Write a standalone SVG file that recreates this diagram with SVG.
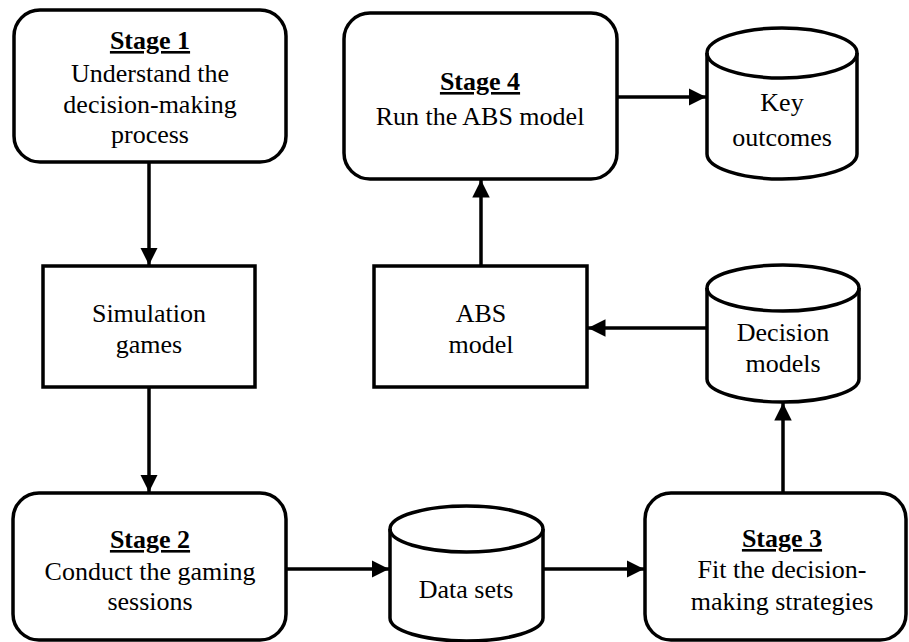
<svg xmlns="http://www.w3.org/2000/svg" width="909" height="642" viewBox="0 0 909 642">
<style>
.box{fill:#fff;stroke:#000;stroke-width:3.5}
.c{fill:none;stroke:#000;stroke-width:3.5}
</style>
<defs>
<marker id="ah" viewBox="0 0 10 10" refX="10" refY="5" markerWidth="5" markerHeight="5" orient="auto" markerUnits="strokeWidth">
<path d="M0,0 L10,5 L0,10 z" fill="#000"/>
</marker>
</defs>
<g id="connectors">
<line class="c" x1="149" y1="162" x2="149" y2="265" marker-end="url(#ah)"/>
<line class="c" x1="149" y1="387" x2="149" y2="492" marker-end="url(#ah)"/>
<line class="c" x1="286" y1="569" x2="389" y2="569" marker-end="url(#ah)"/>
<line class="c" x1="543" y1="569" x2="644" y2="569" marker-end="url(#ah)"/>
<line class="c" x1="783" y1="493" x2="783" y2="403" marker-end="url(#ah)"/>
<line class="c" x1="707" y1="328" x2="588" y2="328" marker-end="url(#ah)"/>
<line class="c" x1="481" y1="266" x2="481" y2="180" marker-end="url(#ah)"/>
<line class="c" x1="617" y1="97" x2="706" y2="97" marker-end="url(#ah)"/>
</g>
<g id="stage1">
<rect class="box" x="14" y="10" width="272" height="152" rx="26"/>
<text font-family="Liberation Serif" font-size="26" text-anchor="middle" font-weight="bold" text-decoration="underline" x="150" y="49">Stage 1</text>
<text font-family="Liberation Serif" font-size="26" text-anchor="middle" x="150" y="82">Understand the</text>
<text font-family="Liberation Serif" font-size="26" text-anchor="middle" x="150" y="113">decision-making</text>
<text font-family="Liberation Serif" font-size="26" text-anchor="middle" x="150" y="143">process</text>
</g>
<g id="simulation">
<rect class="box" x="43" y="266" width="212" height="121"/>
<text font-family="Liberation Serif" font-size="26" text-anchor="middle" x="149" y="322">Simulation</text>
<text font-family="Liberation Serif" font-size="26" text-anchor="middle" x="149" y="353">games</text>
</g>
<g id="stage2">
<rect class="box" x="13" y="493" width="273" height="147" rx="26"/>
<text font-family="Liberation Serif" font-size="26" text-anchor="middle" font-weight="bold" text-decoration="underline" x="150" y="548">Stage 2</text>
<text font-family="Liberation Serif" font-size="26" text-anchor="middle" x="150" y="580">Conduct the gaming</text>
<text font-family="Liberation Serif" font-size="26" text-anchor="middle" x="150" y="610">sessions</text>
</g>
<g id="datasets">
<path class="box" d="M390,529 A76.5,23 0 0 1 543,529 L543,618 A76.5,23 0 0 1 390,618 Z"/>
<path class="c" d="M390,529 A76.5,23 0 0 0 543,529"/>
<text font-family="Liberation Serif" font-size="26" text-anchor="middle" x="466" y="598">Data sets</text>
</g>
<g id="stage3">
<rect class="box" x="645" y="493" width="261" height="147" rx="26"/>
<text font-family="Liberation Serif" font-size="26" text-anchor="middle" font-weight="bold" text-decoration="underline" x="782" y="547">Stage 3</text>
<text font-family="Liberation Serif" font-size="26" text-anchor="middle" x="782" y="578">Fit the decision-</text>
<text font-family="Liberation Serif" font-size="26" text-anchor="middle" x="782" y="610">making strategies</text>
</g>
<g id="decision">
<path class="box" d="M707,288 A76,23 0 0 1 859,288 L859,379 A76,23 0 0 1 707,379 Z"/>
<path class="c" d="M707,288 A76,23 0 0 0 859,288"/>
<text font-family="Liberation Serif" font-size="26" text-anchor="middle" x="783" y="341">Decision</text>
<text font-family="Liberation Serif" font-size="26" text-anchor="middle" x="783" y="372">models</text>
</g>
<g id="abs">
<rect class="box" x="374" y="266" width="213" height="121"/>
<text font-family="Liberation Serif" font-size="26" text-anchor="middle" x="481" y="322">ABS</text>
<text font-family="Liberation Serif" font-size="26" text-anchor="middle" x="481" y="353">model</text>
</g>
<g id="stage4">
<rect class="box" x="344" y="13" width="273" height="166" rx="26"/>
<text font-family="Liberation Serif" font-size="26" text-anchor="middle" font-weight="bold" text-decoration="underline" x="480" y="90">Stage 4</text>
<text font-family="Liberation Serif" font-size="26" text-anchor="middle" x="480" y="125">Run the ABS model</text>
</g>
<g id="keyoutcomes">
<path class="box" d="M707,53 A75,25 0 0 1 857,53 L857,154 A75,25 0 0 1 707,154 Z"/>
<path class="c" d="M707,53 A75,25 0 0 0 857,53"/>
<text font-family="Liberation Serif" font-size="26" text-anchor="middle" x="782" y="111">Key</text>
<text font-family="Liberation Serif" font-size="26" text-anchor="middle" x="782" y="146">outcomes</text>
</g>
</svg>
